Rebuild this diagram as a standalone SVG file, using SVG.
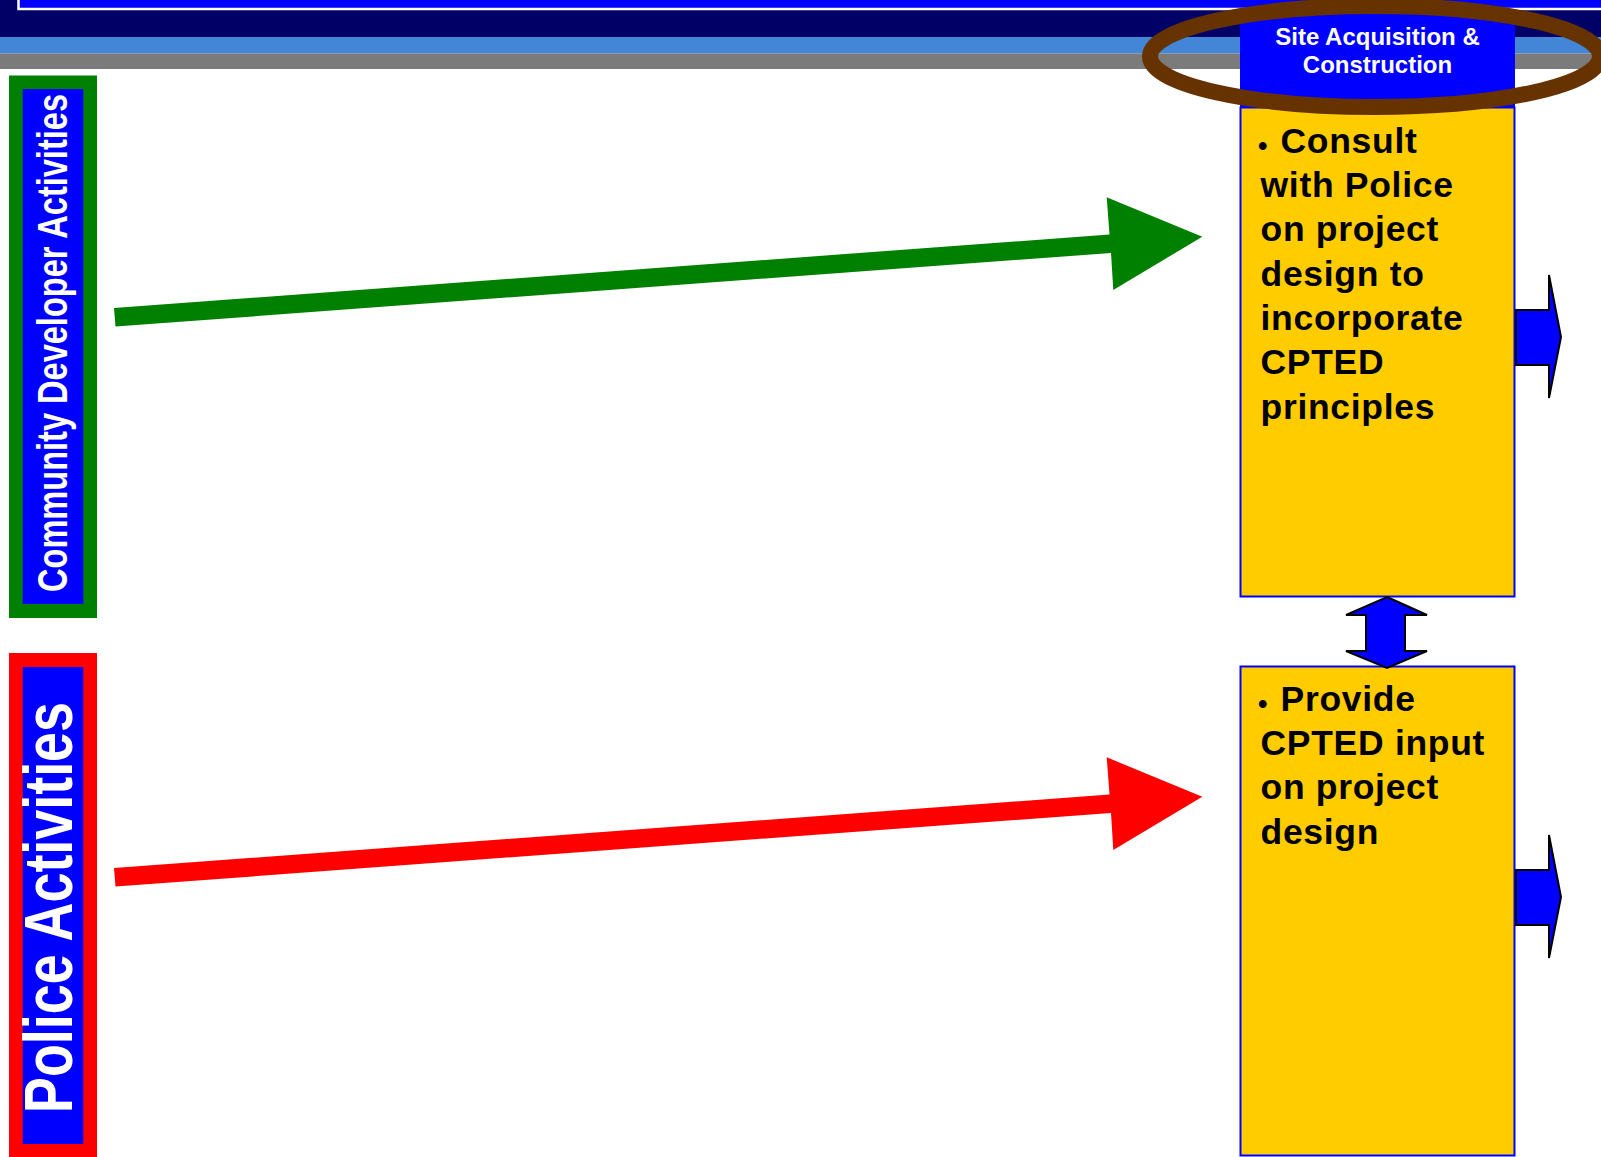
<svg xmlns="http://www.w3.org/2000/svg" width="1601" height="1157" viewBox="0 0 1601 1157">
  <style>
    .bar-text { font-family: "Liberation Sans", Arial, sans-serif; font-weight: bold; fill: #FFFFFF; }
    .body { font-family: "Liberation Sans", Arial, sans-serif; font-weight: bold; font-size: 35.5px; letter-spacing: 0.7px; fill: #000000; }
    .bullet { font-family: "Liberation Sans", Arial, sans-serif; font-weight: bold; font-size: 27px; fill: #000000; }
    .ybox { fill: #FFCC00; stroke: #0000FF; stroke-width: 2; }
    .blk { fill: #0000FF; stroke: #000000; stroke-width: 2; stroke-linejoin: miter; }
  </style>
  <rect x="0" y="0" width="1601" height="1157" fill="#FFFFFF"/>
  <g id="header-bars">
    <rect x="0" y="0" width="1601" height="37" fill="#000066"/>
    <rect x="18.5" y="-20" width="1600" height="29" fill="#0000FF" stroke="#FFFFFF" stroke-width="2.5"/>
    <rect x="0" y="37" width="1601" height="16.5" fill="#4385D6"/>
    <rect x="0" y="53.5" width="1601" height="15.5" fill="#7B7B7B"/>
  </g>
  <g id="lane-developer">
    <rect x="9" y="75.5" width="88" height="542.5" fill="#008000"/>
    <rect x="22.7" y="89" width="60.6" height="515" fill="#0000FF"/>
    <text class="bar-text" font-size="42" transform="translate(67,592) rotate(-90)" textLength="498" lengthAdjust="spacingAndGlyphs">Community Developer Activities</text>
  </g>
  <g id="lane-police">
    <rect x="9" y="653" width="88" height="504" fill="#FF0000"/>
    <rect x="22.7" y="667" width="60.6" height="477" fill="#0000FF"/>
    <text class="bar-text" font-size="68" transform="translate(72,1113) rotate(-90)" textLength="411" lengthAdjust="spacingAndGlyphs">Police Activities</text>
  </g>
  <g id="phase-header">
    <rect x="1240" y="13" width="275" height="95" fill="#0000FF"/>
    <text class="bar-text" font-size="24" x="1377.5" y="45" text-anchor="middle">Site Acquisition &amp;</text>
    <text class="bar-text" font-size="24" x="1377.5" y="73.3" text-anchor="middle">Construction</text>
  </g>
  <g id="box-developer">
    <rect class="ybox" x="1240.5" y="107.5" width="274" height="489"/>
    <text class="bullet" x="1258" y="155">•</text>
    <text class="body" x="1280.5" y="152.7">Consult</text>
    <text class="body" x="1260.5" y="197">with Police</text>
    <text class="body" x="1260.5" y="241.3">on project</text>
    <text class="body" x="1260.5" y="285.6">design to</text>
    <text class="body" x="1260.5" y="329.9">incorporate</text>
    <text class="body" x="1260.5" y="374.2">CPTED</text>
    <text class="body" x="1260.5" y="418.5">principles</text>
  </g>
  <g id="box-police">
    <rect class="ybox" x="1240.5" y="666.5" width="274" height="489"/>
    <text class="bullet" x="1258" y="713">•</text>
    <text class="body" x="1280.5" y="710.7">Provide</text>
    <text class="body" x="1260.5" y="755">CPTED input</text>
    <text class="body" x="1260.5" y="799.3">on project</text>
    <text class="body" x="1260.5" y="843.6">design</text>
  </g>
  <g id="connectors">
    <polygon fill="#008000" points="114,308 1109.5,234.5 1106.7,197.3 1202.3,236.7 1113.3,290 1111,253 115.5,326.5"/>
    <polygon fill="#FF0000" points="114,868 1109.5,794.5 1106.7,757.3 1202.3,796.7 1113.3,850 1111,813 115.5,886.5"/>
    <polygon class="blk" points="1387,597 1427,615 1405,615 1405,651 1427,651 1387,668 1346,651 1366,651 1366,615 1346,615"/>
    <polygon class="blk" points="1516,310 1549,310 1549,275 1561,337 1549,398 1549,365 1516,365"/>
    <polygon class="blk" points="1516,870 1549,870 1549,835 1561,897 1549,958 1549,925 1516,925"/>
  </g>
  <g id="phase-highlight">
    <ellipse cx="1375" cy="56.5" rx="225" ry="50.5" fill="none" stroke="#663300" stroke-width="16"/>
  </g>
</svg>
